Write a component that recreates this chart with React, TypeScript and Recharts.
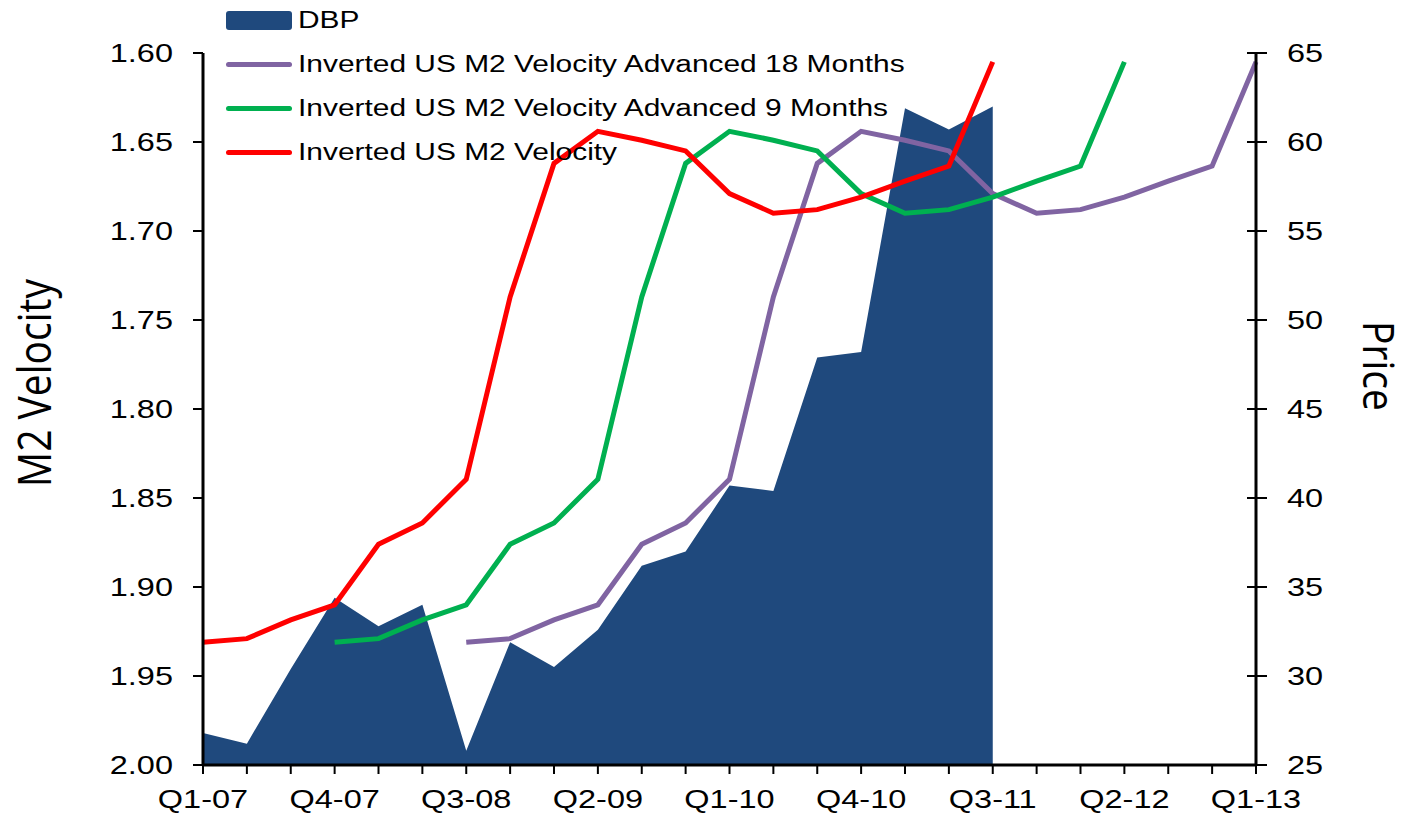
import { ComposedChart, Area, Line, XAxis, YAxis, Legend } from "recharts";

const quarters = [
  "Q1-07", "Q2-07", "Q3-07", "Q4-07",
  "Q1-08", "Q2-08", "Q3-08", "Q4-08",
  "Q1-09", "Q2-09", "Q3-09", "Q4-09",
  "Q1-10", "Q2-10", "Q3-10", "Q4-10",
  "Q1-11", "Q2-11", "Q3-11", "Q4-11",
  "Q1-12", "Q2-12", "Q3-12", "Q4-12",
  "Q1-13",
];

// DBP price, Q1-07 .. Q3-11
const dbpPrice = [
  26.8, 26.2, 30.4, 34.4, 32.8, 34.0, 25.8, 31.9, 30.5, 32.6,
  36.2, 37.0, 40.7, 40.4, 47.9, 48.2, 61.9, 60.7, 62.0,
];

// inverted US M2 velocity, Q1-07 .. Q3-11
const m2Velocity = [
  1.931, 1.929, 1.9185, 1.91, 1.876, 1.864, 1.8395, 1.737, 1.662, 1.644,
  1.649, 1.655, 1.679, 1.69, 1.688, 1.681, 1.672, 1.6635, 1.605,
];

const velocityTicks = [1.6, 1.65, 1.7, 1.75, 1.8, 1.85, 1.9, 1.95, 2.0];
const priceTicks = [25, 30, 35, 40, 45, 50, 55, 60, 65];

const legendOrder = ["dbp", "vel18", "vel9", "vel"];

// the 9 and 18 month advanced series are the same velocity shifted 3 / 6 quarters
const rows = quarters.map((q, i) => ({
  q,
  dbp: i < dbpPrice.length ? dbpPrice[i] : null,
  vel: i < m2Velocity.length ? m2Velocity[i] : null,
  vel9: i >= 3 && i - 3 < m2Velocity.length ? m2Velocity[i - 3] : null,
  vel18: i >= 6 && i - 6 < m2Velocity.length ? m2Velocity[i - 6] : null,
}));

const FONT = "'Liberation Sans', Arial, sans-serif";
const STRETCH = 1.3;

const LeftTick = ({ x, y, payload }: any) => (
  <g transform={`translate(${x},${y}) scale(${STRETCH},1)`}>
    <text textAnchor="end" dy="0.36em" fontSize={25} fontFamily={FONT} fill="#000">
      {Number(payload.value).toFixed(2)}
    </text>
  </g>
);

const RightTick = ({ x, y, payload }: any) => (
  <g>
    <line x1={x - 40} x2={x - 31} y1={y} y2={y} stroke="#000" strokeWidth={2} />
    <g transform={`translate(${x},${y}) scale(${STRETCH},1)`}>
      <text textAnchor="start" dy="0.36em" fontSize={25} fontFamily={FONT} fill="#000">
        {payload.value}
      </text>
    </g>
  </g>
);

const BottomTick = ({ x, y, payload, index }: any) => {
  if (index % 3 !== 0) return <g />;
  return (
    <g transform={`translate(${x},${y}) scale(${STRETCH},1)`}>
      <text textAnchor="middle" dy="0.71em" fontSize={25} fontFamily={FONT} fill="#000">
        {payload.value}
      </text>
    </g>
  );
};

const LegendBox = ({ payload }: any) => {
  const items = [...(payload || [])].sort(
    (a: any, b: any) => legendOrder.indexOf(a.dataKey) - legendOrder.indexOf(b.dataKey)
  );
  return (
    <div style={{ fontFamily: FONT, fontSize: 23, color: "#000" }}>
      {items.map((p: any) => (
        <div key={p.value} style={{ height: 44, display: "flex", alignItems: "center" }}>
          {p.type === "rect" ? (
            <div style={{ width: 66, height: 19, background: p.color, borderRadius: 3 }} />
          ) : (
            <div style={{ width: 66, height: 5, background: p.color, borderRadius: 3 }} />
          )}
          <span
            style={{
              marginLeft: 6,
              whiteSpace: "nowrap",
              display: "inline-block",
              transform: `scaleX(${STRETCH})`,
              transformOrigin: "left center",
            }}
          >
            {p.value}
          </span>
        </div>
      ))}
    </div>
  );
};

export default function App() {
  return (
    <div style={{ position: "relative", left: -8, top: -8, width: 1403, height: 816, background: "#fff" }}>
      <ComposedChart
        width={1403}
        height={816}
        data={rows}
        margin={{ top: 53, right: 0, bottom: 0, left: 0 }}
      >
        <XAxis
          dataKey="q"
          scale="point"
          interval={0}
          height={51}
          tick={<BottomTick />}
          tickSize={9}
          tickMargin={16}
          axisLine={{ stroke: "#000", strokeWidth: 3 }}
          tickLine={{ stroke: "#000", strokeWidth: 2 }}
        />
        <YAxis
          yAxisId="vel"
          orientation="left"
          reversed
          domain={[1.6, 2.0]}
          ticks={velocityTicks}
          interval={0}
          width={203}
          tick={<LeftTick />}
          tickSize={10}
          tickMargin={20}
          axisLine={{ stroke: "#000", strokeWidth: 3 }}
          tickLine={{ stroke: "#000", strokeWidth: 2 }}
          label={{
            content: ({ viewBox }: any) => (
              <text
                transform={`translate(${viewBox.x + 35},${viewBox.y + viewBox.height / 2 - 26}) rotate(-90) scale(1,1.15)`}
                textAnchor="middle"
                dy="0.36em"
                fontSize={39}
                fontFamily="'Open Sans', sans-serif"
                fill="#000"
              >
                M2 Velocity
              </text>
            ),
          }}
        />
        <YAxis
          yAxisId="price"
          orientation="right"
          domain={[25, 65]}
          ticks={priceTicks}
          interval={0}
          width={147}
          tick={<RightTick />}
          tickSize={11}
          tickMargin={20}
          axisLine={{ stroke: "#000", strokeWidth: 3 }}
          tickLine={{ stroke: "#000", strokeWidth: 2 }}
          label={{
            content: ({ viewBox }: any) => (
              <text
                transform={`translate(${viewBox.x + 122},${viewBox.y + viewBox.height / 2 - 43}) rotate(90) scale(1,1.1)`}
                textAnchor="middle"
                dy="0.36em"
                fontSize={39}
                fontFamily="'Open Sans', sans-serif"
                fill="#000"
              >
                Price
              </text>
            ),
          }}
        />
        <Area
          yAxisId="price"
          dataKey="dbp"
          name="DBP"
          type="linear"
          baseValue={25}
          fill="#1F497D"
          fillOpacity={1}
          stroke="none"
          legendType="rect"
          isAnimationActive={false}
        />
        <Line
          yAxisId="vel"
          dataKey="vel18"
          name="Inverted US M2 Velocity Advanced 18 Months"
          type="linear"
          stroke="#8064A2"
          strokeWidth={5}
          dot={false}
          activeDot={false}
          isAnimationActive={false}
        />
        <Line
          yAxisId="vel"
          dataKey="vel9"
          name="Inverted US M2 Velocity Advanced 9 Months"
          type="linear"
          stroke="#00B050"
          strokeWidth={5}
          dot={false}
          activeDot={false}
          isAnimationActive={false}
        />
        <Line
          yAxisId="vel"
          dataKey="vel"
          name="Inverted US M2 Velocity"
          type="linear"
          stroke="#FF0000"
          strokeWidth={5}
          dot={false}
          activeDot={false}
          isAnimationActive={false}
        />
        <Legend
          layout="vertical"
          align="center"
          verticalAlign="middle"
          content={<LegendBox />}
          wrapperStyle={{ top: -2, left: 226, width: "auto" }}
        />
      </ComposedChart>
    </div>
  );
}
